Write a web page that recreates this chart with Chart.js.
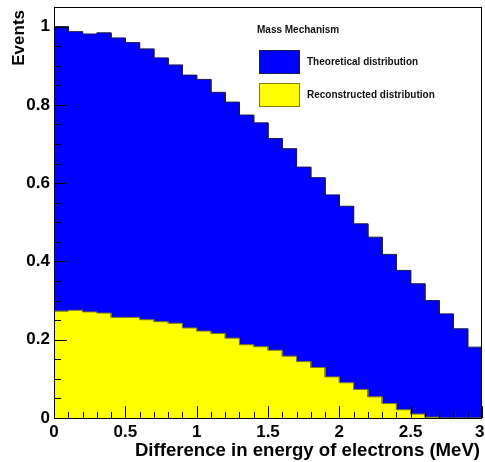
<!DOCTYPE html>
<html>
<head>
<meta charset="utf-8">
<script src="https://cdn.jsdelivr.net/npm/chart.js@4.4.0/dist/chart.umd.min.js"></script>
<style>
html,body{margin:0;padding:0;background:#fff;}
#wrap{width:485px;height:462px;}
</style>
</head>
<body>
<div id="wrap"><canvas id="c" width="485" height="462"></canvas></div>
<script>
// 30 bins of 0.1 MeV from 0 to 3 MeV, normalised to the first bin
const binWidth = 0.1;
const theoretical = [1.000,0.987,0.981,0.984,0.971,0.959,0.943,0.920,0.902,0.876,
                     0.865,0.832,0.807,0.774,0.754,0.714,0.688,0.641,0.614,0.570,
                     0.541,0.496,0.462,0.418,0.377,0.343,0.300,0.266,0.228,0.181];
const reconstructed = [0.273,0.275,0.271,0.268,0.257,0.257,0.251,0.246,0.242,0.230,
                       0.222,0.216,0.204,0.187,0.182,0.173,0.158,0.144,0.129,0.105,
                       0.090,0.073,0.054,0.037,0.021,0.010,0.002,0,0,0];
const xTicks = [0,0.5,1,1.5,2,2.5,3];
const yTicks = [0,0.2,0.4,0.6,0.8,1];
const xTitle = 'Difference in energy of electrons (MeV)';
const yTitle = 'Events';
const legendTitle = 'Mass Mechanism';
const seriesNames = ['Theoretical distribution','Reconstructed distribution'];
const seriesFill = ['#0000ff','#ffff00'];
const seriesLine = ['#1c1c50','#80800a'];

const FONT = '"Liberation Sans", Arial, Helvetica, sans-serif';
Chart.defaults.font.family = FONT;

// histogram outline: flat top over each bin, vertical jump at the edges
function steps(vals){
  const pts = [];
  vals.forEach((v,i) => {
    pts.push({x: i*binWidth, y: v});
    pts.push({x: (i+1)*binWidth, y: v});
  });
  return pts;
}

function histo(idx, vals, order){
  return {
    label: seriesNames[idx],
    data: steps(vals),
    order: order,
    borderColor: seriesLine[idx],
    borderWidth: 1,
    backgroundColor: seriesFill[idx],
    fill: 'origin',
    pointRadius: 0,
    tension: 0
  };
}

// inner tick marks + frame, ROOT style
const frame = {
  id: 'frame',
  afterDatasetsDraw(chart){
    const {ctx, chartArea: a, scales: {x, y}} = chart;
    ctx.save();
    ctx.strokeStyle = '#000';
    ctx.lineWidth = 1;
    ctx.beginPath();
    for (let i = 0; i <= 30; i++){
      const px = Math.round(x.getPixelForValue(i/10)) + 0.5;
      const len = i % 5 === 0 ? 12 : 6;
      ctx.moveTo(px, a.bottom); ctx.lineTo(px, a.bottom - len);
    }
    for (let i = 0; i <= 20; i++){
      const py = Math.round(y.getPixelForValue(i*0.05)) + 0.5;
      const len = i % 4 === 0 ? 13 : 7;
      ctx.moveTo(a.left, py); ctx.lineTo(a.left + len, py);
    }
    ctx.stroke();
    ctx.strokeRect(a.left + 0.5, a.top + 0.5, a.right - a.left - 1, a.bottom - a.top);
    ctx.restore();
  },
  afterDraw(chart){
    const {ctx, chartArea: a} = chart;
    ctx.save();
    // axis titles, right / top aligned
    ctx.fillStyle = '#000';
    ctx.textBaseline = 'middle';
    ctx.textAlign = 'right';
    ctx.font = 'bold 18.6px ' + FONT;
    ctx.fillText(xTitle, a.right - 2, 451);
    ctx.save();
    ctx.translate(19, a.top + 3);
    ctx.rotate(-Math.PI / 2);
    ctx.font = 'bold 17px ' + FONT;
    ctx.fillText(yTitle, 0, 0);
    ctx.restore();

    // legend
    ctx.textAlign = 'left';
    ctx.fillStyle = '#111';
    ctx.font = 'bold 10px ' + FONT;
    ctx.fillText(legendTitle, 257, 30);
    const boxY = [50, 83];
    seriesNames.forEach((name, i) => {
      ctx.fillStyle = seriesFill[i];
      ctx.fillRect(259, boxY[i], 40, 23);
      ctx.strokeStyle = seriesLine[i];
      ctx.strokeRect(259.5, boxY[i] + 0.5, 40, 23);
      ctx.fillStyle = '#111';
      ctx.fillText(name, 307, boxY[i] + 12);
    });
    ctx.restore();
  }
};

const tickText = v => (v === 3 ? '3 ' : String(v));

new Chart(document.getElementById('c'), {
  type: 'line',
  data: { datasets: [ histo(0, theoretical, 1), histo(1, reconstructed, 0) ] },
  options: {
    responsive: false,
    animation: false,
    layout: { padding: { top: 7, right: 3, left: 0, bottom: 0 } },
    plugins: { legend: { display: false }, tooltip: { enabled: false } },
    scales: {
      x: {
        type: 'linear', min: 0, max: 3,
        afterBuildTicks: s => { s.ticks = xTicks.map(v => ({value: v})); },
        afterFit: s => { s.height = 44; s.paddingLeft = 0; s.paddingRight = 0; },
        grid: { display: false, drawTicks: false },
        border: { display: false },
        ticks: { color: '#000', padding: 4, font: { size: 17, weight: 'bold' }, maxRotation: 0,
                 callback: tickText }
      },
      y: {
        min: 0, max: 1.05,
        afterBuildTicks: s => { s.ticks = yTicks.map(v => ({value: v})); },
        afterFit: s => { s.width = 54; s.paddingTop = 0; s.paddingBottom = 0; },
        grid: { display: false, drawTicks: false },
        border: { display: false },
        ticks: { color: '#000', padding: 4, font: { size: 17, weight: 'bold' }, callback: v => String(v) }
      }
    }
  },
  plugins: [frame]
});
</script>
</body>
</html>
